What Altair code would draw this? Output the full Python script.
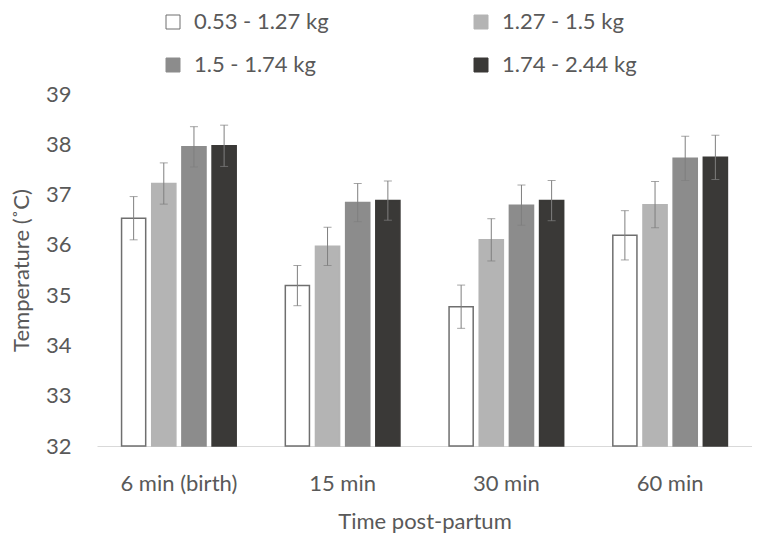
import altair as alt
import pandas as pd

times = ["6 min (birth)", "15 min", "30 min", "60 min"]
groups = ["0.53 - 1.27 kg", "1.27 - 1.5 kg", "1.5 - 1.74 kg", "1.74 - 2.44 kg"]

mean_g1 = [36.53, 35.19, 34.77, 36.19]
mean_g2 = [37.22, 35.97, 36.10, 36.80]
mean_g3 = [37.95, 36.84, 36.79, 37.72]
mean_g4 = [37.97, 36.88, 36.88, 37.74]

err_g1 = [0.43, 0.40, 0.43, 0.49]
err_g2 = [0.41, 0.38, 0.42, 0.46]
err_g3 = [0.40, 0.38, 0.40, 0.44]
err_g4 = [0.41, 0.39, 0.40, 0.44]

y_ticks = [32, 33, 34, 35, 36, 37, 38, 39]
y_base = 32

fills = ["#ffffff", "#b4b4b4", "#8c8c8c", "#3a3937"]
strokes = ["#6f6f6f", "#b4b4b4", "#8c8c8c", "#3a3937"]

rows = []
for g, ms, es in zip(groups, [mean_g1, mean_g2, mean_g3, mean_g4],
                     [err_g1, err_g2, err_g3, err_g4]):
    for t, m, e in zip(times, ms, es):
        rows.append({"time": t, "group": g, "mean": m, "lo": m - e, "hi": m + e})
df = pd.DataFrame(rows)

TXT = "#595959"
FONT = "Lato"
YTITLE = "Temperature (˚C)"

x_enc = alt.X(
    "time:N", sort=times,
    scale=alt.Scale(paddingInner=0.3, paddingOuter=0.15),
    axis=alt.Axis(title="Time post-partum", labelAngle=0, ticks=False,
                  domainColor="#d9d9d9", domainWidth=1,
                  labelPadding=27, titlePadding=17,
                  labelFontSize=22, titleFontSize=22,
                  labelColor=TXT, titleColor=TXT,
                  labelFont=FONT, titleFont=FONT, titleFontWeight="normal"),
)
xoff_enc = alt.XOffset("group:N", sort=groups, scale=alt.Scale(paddingInner=0.2))

y_scale = alt.Scale(domain=[32, 39], nice=False, zero=False)
y_axis = alt.Axis(title=YTITLE, values=y_ticks, grid=False, domain=False, ticks=False,
                  labelPadding=26, titlePadding=12,
                  labelFontSize=22, titleFontSize=22,
                  labelColor=TXT, titleColor=TXT,
                  labelFont=FONT, titleFont=FONT, titleFontWeight="normal")

legend = alt.Legend(title=None, orient="none", legendX=65, legendY=-83,
                    direction="horizontal",
                    columns=2, columnPadding=141, rowPadding=21,
                    symbolType="square", symbolSize=196, symbolStrokeWidth=1,
                    labelFontSize=22, labelColor=TXT, labelFont=FONT,
                    labelOffset=10, padding=0)

base = alt.Chart(df).encode(x=x_enc, xOffset=xoff_enc)

bars = base.mark_bar(strokeWidth=1.5).encode(
    y=alt.Y("mean:Q", scale=y_scale, axis=y_axis),
    y2=alt.datum(y_base),
    fill=alt.Fill("group:N", sort=groups,
                  scale=alt.Scale(domain=groups, range=fills), legend=legend),
    stroke=alt.Stroke("group:N", sort=groups,
                      scale=alt.Scale(domain=groups, range=strokes), legend=legend),
)

rules = base.mark_rule(color="#7f7f7f", strokeWidth=1).encode(
    y=alt.Y("lo:Q", scale=y_scale, axis=y_axis),
    y2="hi:Q",
)
cap_hi = base.mark_tick(color="#7f7f7f", thickness=1, size=8, orient="horizontal").encode(
    y=alt.Y("hi:Q", scale=y_scale, axis=y_axis),
)
cap_lo = base.mark_tick(color="#7f7f7f", thickness=1, size=8, orient="horizontal").encode(
    y=alt.Y("lo:Q", scale=y_scale, axis=y_axis),
)

chart = alt.layer(bars, rules, cap_hi, cap_lo).properties(
    width=655, height=352,
    autosize=alt.AutoSizeParams(type="none"),
    padding={"left": 89, "top": 86, "right": 0, "bottom": 87},
    background="#ffffff",
).configure_view(stroke=None)

chart.save("out.html", embed_options={"renderer": "svg", "actions": False})
